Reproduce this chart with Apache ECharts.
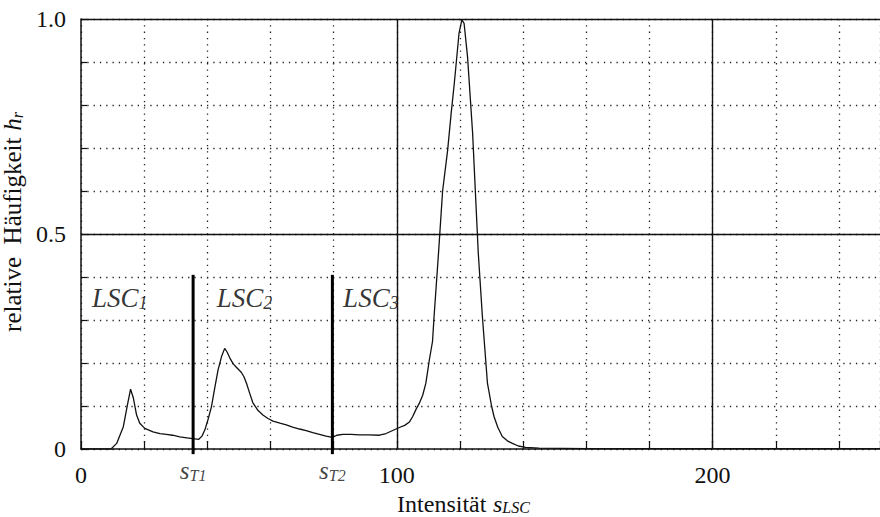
<!DOCTYPE html>
<html>
<head>
<meta charset="utf-8">
<script src="https://cdn.jsdelivr.net/npm/echarts@6/dist/echarts.min.js"></script>
<style>
	html, body { margin: 0; padding: 0; background: #fff; }
	#chart { width: 880px; height: 517px; }
</style>
</head>
<body>
<div id="chart"></div>
<script>
// Intensität (x) und relative Häufigkeit (y)
var intensity = [0, 9.5, 11.3, 13.4, 14.8, 15.7, 16.6, 17.6, 18.6, 20.2, 22.8, 25, 27, 29, 31.3, 33.5, 35.4, 37.3,
	38.3, 39.2, 40.2, 41.3, 42.3, 43.4, 44.5, 45.5, 46.3, 47.1, 48.2, 49.2, 50.8, 51.6, 52.4, 53.4, 54.4, 56, 57.6,
	59.2, 60.8, 63, 65, 67, 69.2, 71.3, 73.4, 75.5, 77.6, 79.6, 81, 82.9, 85.5, 88.2, 91.3, 94.5, 96.6, 98.7, 100.8,
	102.5, 104, 105, 106, 107.1, 108.2, 109.2, 110.3, 111.3, 111.8, 113.2, 114.5, 116.1, 117.2, 118.2, 119.7, 120.6,
	121.3, 122.4, 124, 125, 125.8, 127.1, 128.7, 130, 130.8, 132, 133.4, 135, 136.6, 138.5, 140.8, 145, 160, 200,
	230, 253];
var frequency = [0, 0, 0.013, 0.052, 0.106, 0.139, 0.118, 0.079, 0.06, 0.048, 0.04, 0.036, 0.034, 0.032, 0.028,
	0.026, 0.024, 0.0225, 0.03, 0.044, 0.068, 0.098, 0.14, 0.184, 0.215, 0.234, 0.225, 0.212, 0.198, 0.19, 0.178,
	0.168, 0.153, 0.13, 0.108, 0.09, 0.079, 0.071, 0.065, 0.06, 0.056, 0.051, 0.0465, 0.043, 0.038, 0.034, 0.03,
	0.027, 0.032, 0.034, 0.034, 0.033, 0.033, 0.032, 0.036, 0.043, 0.05, 0.055, 0.063, 0.075, 0.091, 0.106, 0.125,
	0.153, 0.207, 0.25, 0.308, 0.455, 0.6, 0.695, 0.78, 0.85, 0.967, 0.998, 0.99, 0.912, 0.735, 0.579, 0.455,
	0.308, 0.153, 0.1, 0.075, 0.05, 0.029, 0.019, 0.013, 0.007, 0.004, 0.002, 0.001, 0.001, 0.001, 0.001];

// Schwellen s_T1, s_T2
var thresholdNames = ["T1", "T2"];
var thresholdValues = [35.5, 79.6];
var thresholdTop = 0.405;
var thresholdBottom = -0.012;

// Klassenbeschriftungen LSC_1..3 (Ankerpunkt links)
var classNames = ["1", "2", "3"];
var classX = [3.5, 43, 83];
var classY = [0.356, 0.356, 0.356];

var xTickLabels = [0, 100, 200];
var yTickLabels = { "0": "0", "0.5": "0.5", "1": "1.0" };
var solidX = [100, 200];
var solidY = [0.5, 1];

var serif = "Liberation Serif";

var curve = [];
for (var i = 0; i < intensity.length; i++) {
	curve.push([intensity[i], frequency[i]]);
}

var series = [
	{
		name: "h",
		type: "line",
		data: curve,
		showSymbol: false,
		silent: true,
		lineStyle: { color: "#111", width: 1.3 },
		markLine: {
			silent: true,
			symbol: "none",
			label: { show: false },
			lineStyle: { color: "#111", width: 1.4, type: "solid" },
			data: solidX.map(function (v) { return { xAxis: v }; })
				.concat(solidY.map(function (v) { return { yAxis: v }; }))
		},
		z: 3
	}
];

thresholdValues.forEach(function (v) {
	series.push({
		type: "line",
		data: [[v, thresholdBottom], [v, thresholdTop]],
		showSymbol: false,
		symbol: "none",
		clip: false,
		silent: true,
		lineStyle: { color: "#000", width: 3 },
		z: 4
	});
});

// s_T Beschriftungen unter der Achse
series.push({
	type: "scatter",
	symbolSize: 0,
	silent: true,
	clip: false,
	data: thresholdValues.map(function (v, k) { return [v, thresholdBottom, thresholdNames[k]]; }),
	label: {
		show: true,
		position: "bottom",
		distance: 3,
		formatter: function (p) { return "{s|s}{t|" + p.value[2] + "}"; },
		rich: {
			s: { fontFamily: serif, fontStyle: "italic", fontSize: 25, color: "#111", lineHeight: 26, verticalAlign: "bottom" },
			t: { fontFamily: serif, fontStyle: "italic", fontSize: 16, color: "#111", verticalAlign: "bottom", padding: [10, 0, 0, 0] }
		}
	}
});

series.push({
	type: "scatter",
	symbolSize: 0,
	silent: true,
	data: classX.map(function (x, k) { return [x, classY[k], classNames[k]]; }),
	label: {
		show: true,
		position: "right",
		distance: 0,
		formatter: function (p) { return "{m|LSC}{n|" + p.value[2] + "}"; },
		rich: {
			m: { fontFamily: serif, fontStyle: "italic", fontSize: 27, color: "#000", lineHeight: 28, verticalAlign: "bottom" },
			n: { fontFamily: serif, fontStyle: "italic", fontSize: 18, color: "#000", verticalAlign: "bottom", padding: [14, 0, 0, 0] }
		}
	}
});

var option = {
	animation: false,
	backgroundColor: "#fff",
	grid: { left: 81, right: 0, top: 19, bottom: 68, containLabel: false, outerBoundsMode: "none" },
	xAxis: {
		type: "value",
		min: 0,
		max: 253,
		interval: 20,
		name: "{a|Intensität}  {b|s}{c|LSC}",
		nameLocation: "middle",
		nameGap: 36,
		nameTextStyle: {
			padding: [0, 34, 0, 0],
			rich: {
				a: { fontFamily: serif, fontSize: 24, color: "#111", lineHeight: 26, verticalAlign: "bottom" },
				b: { fontFamily: serif, fontStyle: "italic", fontSize: 24, color: "#111", verticalAlign: "bottom" },
				c: { fontFamily: serif, fontStyle: "italic", fontSize: 16, color: "#111", verticalAlign: "bottom", padding: [9, 0, 0, 0] }
			}
		},
		axisLine: { show: true, onZero: false, lineStyle: { color: "#111", width: 1.5 } },
		axisTick: { show: true, inside: true, length: 8, lineStyle: { color: "#111", width: 1.2 } },
		axisLabel: {
			margin: 14,
			fontFamily: serif,
			fontSize: 24,
			color: "#111",
			formatter: function (v) { return xTickLabels.indexOf(v) >= 0 ? String(v) : ""; }
		},
		splitLine: { show: true, lineStyle: { color: "#222", width: 1.3, type: [1.3, 5] } }
	},
	yAxis: {
		type: "value",
		min: 0,
		max: 1,
		interval: 0.1,
		name: "{a|relative  Häufigkeit}  {b|h}{c|r}",
		nameLocation: "middle",
		nameRotate: 90,
		nameGap: 50,
		nameTextStyle: {
			padding: [0, 0, 0, 24],
			rich: {
				a: { fontFamily: serif, fontSize: 25, color: "#111", lineHeight: 26, verticalAlign: "bottom" },
				b: { fontFamily: serif, fontStyle: "italic", fontSize: 25, color: "#111", verticalAlign: "bottom" },
				c: { fontFamily: serif, fontStyle: "italic", fontSize: 16, color: "#111", verticalAlign: "bottom", padding: [9, 0, 0, 0] }
			}
		},
		axisLine: { show: true, lineStyle: { color: "#111", width: 1.5 } },
		axisTick: { show: true, inside: true, length: 6, lineStyle: { color: "#111", width: 1.2 } },
		axisLabel: {
			margin: 15,
			fontFamily: serif,
			fontSize: 24,
			color: "#111",
			formatter: function (v) {
				var key = String(Math.round(v * 10) / 10);
				return yTickLabels[key] || "";
			}
		},
		splitLine: { show: true, lineStyle: { color: "#222", width: 1.3, type: [1.3, 5] } }
	},
	series: series
};

var myChart = echarts.init(document.getElementById("chart"), null, { renderer: "svg" });
myChart.setOption(option);
</script>
</body>
</html>
